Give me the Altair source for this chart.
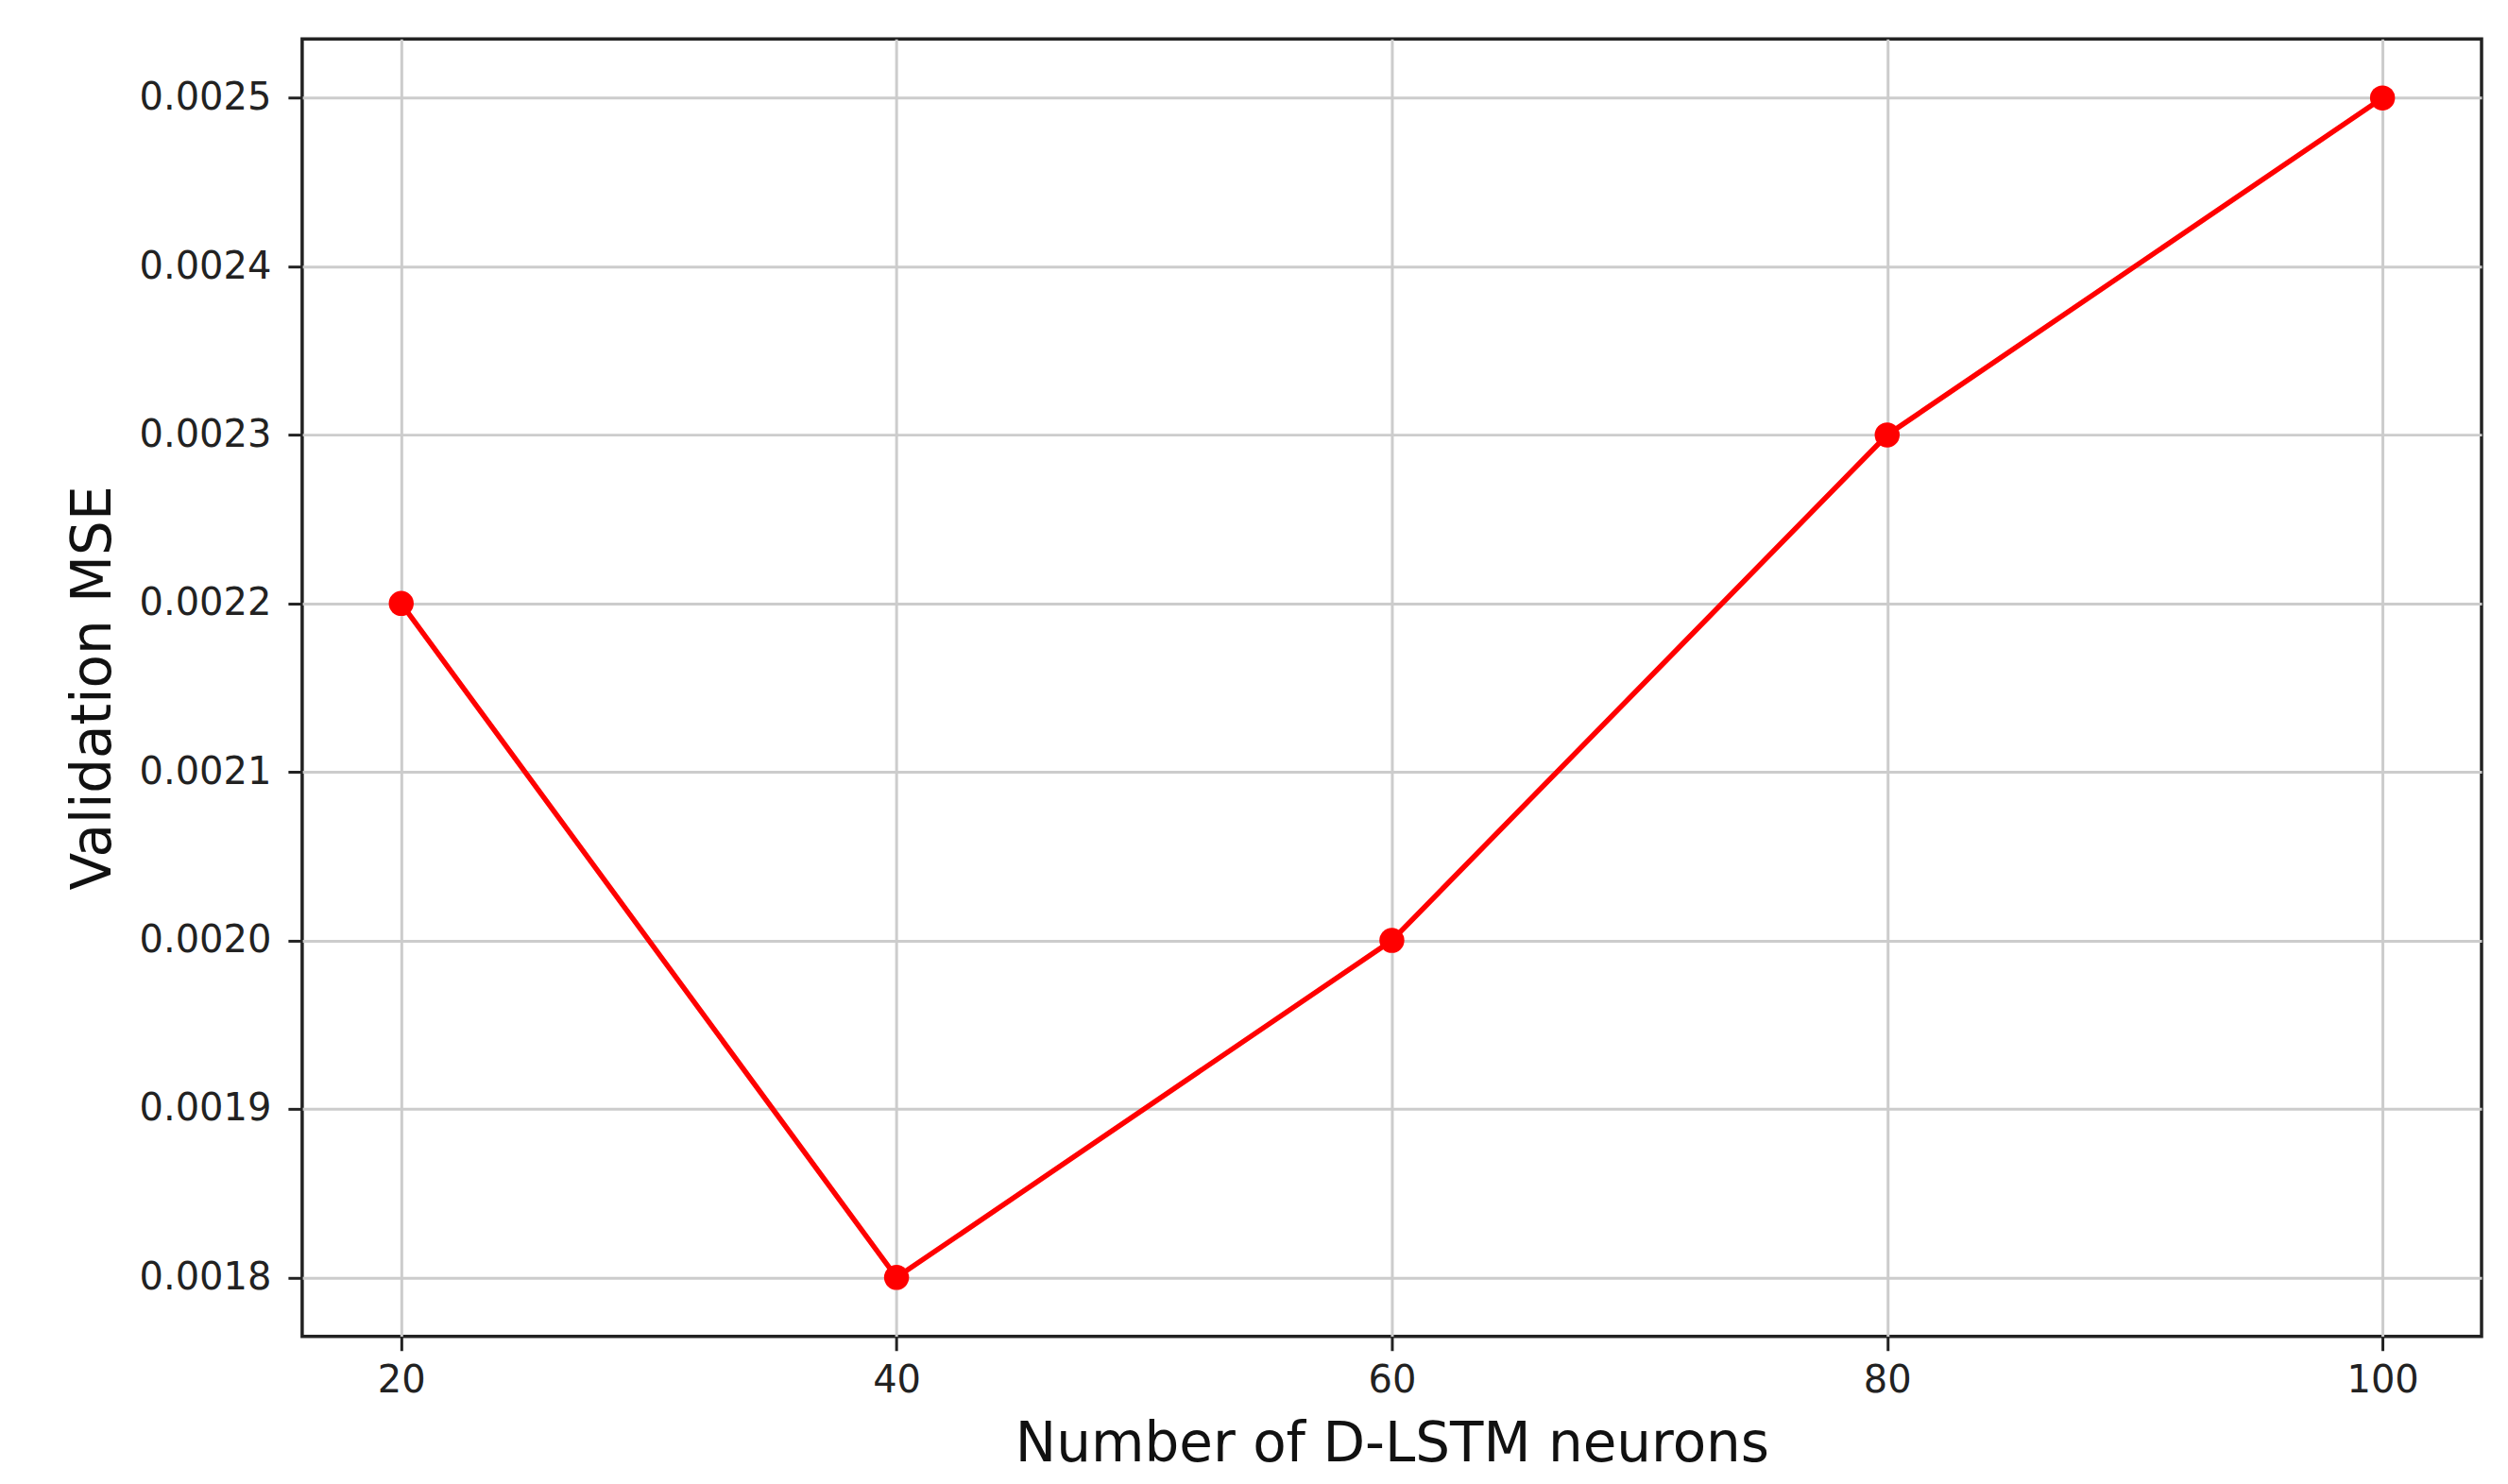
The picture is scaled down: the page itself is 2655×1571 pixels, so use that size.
import altair as alt
import pandas as pd

neurons = [20, 40, 60, 80, 100]
val_mse = [0.0022, 0.0018, 0.0020, 0.0023, 0.0025]
x_ticks = [20, 40, 60, 80, 100]
y_ticks = [0.0018, 0.0019, 0.0020, 0.0021, 0.0022, 0.0023, 0.0024, 0.0025]

df = pd.DataFrame({"neurons": neurons, "mse": val_mse})

FONT = "DejaVu Sans"

x_enc = alt.X(
    "neurons:Q",
    scale=alt.Scale(domain=[16, 104], nice=False, zero=False),
    axis=alt.Axis(
        values=x_ticks, format="d", title="Number of D-LSTM neurons",
        labelFont=FONT, labelFontSize=40, labelColor="#222222", labelPadding=12,
        tickSize=15, tickWidth=3, tickColor="#222222",
        titleFont=FONT, titleFontSize=58, titleFontWeight="normal", titleColor="#111111",
        titleBaseline="alphabetic", titleX=1154, titleY=132,
        grid=True, gridColor="#cccccc", gridWidth=3,
        domain=False,
    ),
)
y_enc = alt.Y(
    "mse:Q",
    scale=alt.Scale(domain=[0.001765, 0.002535], nice=False, zero=False),
    axis=alt.Axis(
        values=y_ticks, format=".4f", title="Validation MSE",
        labelFont=FONT, labelFontSize=40, labelColor="#222222", labelPadding=18,
        tickSize=15, tickWidth=3, tickColor="#222222",
        titleFont=FONT, titleFontSize=58, titleFontWeight="normal", titleColor="#111111",
        titleAngle=-90, titleBaseline="alphabetic", titleX=-203, titleY=687,
        grid=True, gridColor="#cccccc", gridWidth=3,
        domain=False,
    ),
)

base = alt.Chart(df).encode(x=x_enc, y=y_enc)
line = base.mark_line(color="#ff0000", strokeWidth=5.5)
points = base.mark_circle(color="#ff0000", size=700, opacity=1)

chart = (line + points).properties(
    width=2308,
    height=1374,
    autosize=alt.AutoSizeParams(type="none"),
    padding={"left": 312, "top": 33, "right": 20, "bottom": 160},
).configure_view(stroke="#222222", strokeWidth=3.5)

chart.save("out.html", embed_options={"renderer": "svg", "actions": False})
